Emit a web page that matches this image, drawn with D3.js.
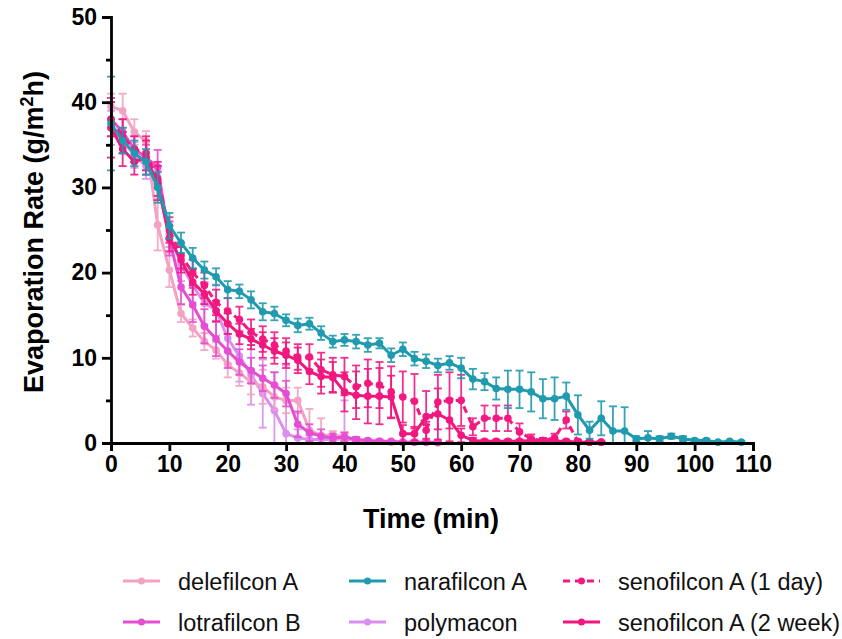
<!DOCTYPE html>
<html>
<head>
<meta charset="utf-8">
<script src="https://cdn.jsdelivr.net/npm/d3@7"></script>
<style>
  html, body { margin: 0; padding: 0; background: #fff; }
  svg { display: block; font-family: "Liberation Sans", Arial, sans-serif; }
</style>
</head>
<body>
<svg id="chart" width="842" height="639"></svg>
<script>
// Sampling times (min)
const times = [0,2,4,6,8,10,12,14,16,18,20,22,24,26,28,30,32,34,36,38,40,42,44,46,48,50,52,54,56,58,60,62,64,66,68,70,72,74,76,78,80,82,84,86,88,90,92,94,96,98,100,102,104,106,108];

// Evaporation rate means (g/m²h) and their error (SD)
const delefilcon = [39.5,39,36.5,35.4,25.6,20.3,15.2,13.5,11.9,10.9,9.2,8.2,7.2,6.6,5.4,5.0,5.0,1.5,0.9,0.9,0.8,0.4,0.2,0.2,0.1,0.1,0.1,0.1,0.0];
const delefilconErr = [1.5,2,1.5,1.2,3,2,1,1,1,1,1.5,1.5,1.5,2,1.5,1.5,1.5,2.5,2,0.5,0.5,0.3,0.2,0.2,0.1,0.1,0.1,0.1,0.1];

const lotrafilcon = [38,36.5,34.5,33.5,32.4,24,18.3,16.2,13.7,12.2,10.8,9.5,8.5,7.6,6.8,5.8,2.2,1.2,0.8,0.6,0.7,0.4,0.3,0.2,0.2,0.1,0.1,0.1,0.1];
const lotrafilconErr = [2,1.5,1.5,1.5,2,2,2,2,2,2,2,1.5,1.5,1.5,1.5,1.5,1.5,1,0.8,0.5,0.5,0.3,0.2,0.2,0.1,0.1,0.1,0.1,0.1];

const narafilcon = [37.5,35.5,34,33,30,25.5,23.5,21.7,20.3,19.5,18,17.8,16.8,15.4,15.2,14.4,13.8,14.0,12.9,11.9,12.1,11.9,11.5,11.7,10.3,11.0,9.9,9.6,9.1,9.4,8.8,7.5,7.2,6.4,6.3,6.3,6.0,5.2,5.2,5.5,3.3,1.5,2.9,1.4,1.4,0.5,0.6,0.5,0.8,0.5,0.3,0.3,0.1,0.2,0.1];
const narafilconErr = [5.5,1.5,1.5,1.5,1.8,1.5,1.2,1.2,1.0,1.0,1.0,0.8,1.0,1.0,0.8,0.7,0.8,0.7,0.8,0.7,0.7,0.8,0.8,0.6,0.8,0.8,0.8,0.8,0.8,0.8,1.2,1.2,1.0,1.3,2.2,2.2,2.3,2.3,2.5,1.6,2.3,1.0,2.0,2.9,2.8,0.3,0.8,0.3,0.3,0.3,0.2,0.2,0.1,0.1,0.1];

const polymacon = [37,35.5,33.8,32.5,30.5,24.5,21,18.5,16.4,15.6,12.3,10.2,8.0,5.8,3.8,1.1,0.6,0.4,0.4,0.4,0.5,0.3,0.2];
const polymaconErr = [2,1.5,1.5,1.5,1.5,1.5,2,2,2.5,3,3,3,3.5,4,4.5,8,1,0.5,0.5,0.5,4.5,0.3,0.2];

const senofilcon1d = [38,36,34.5,34,31,25,22,20,18.5,16.5,15.5,14.5,13.0,12.2,11.5,10.8,10.1,10.1,8.6,8.0,7.8,6.6,7.0,6.8,6.0,5.4,4.9,1.5,4.8,5.0,5.0,1.9,2.9,2.9,2.9,1.3,0.5,0.3,0.6,2.7,0.2,0.1,0.1];
const senofilcon1dErr = [2,2,1.5,2,2,1.5,1.5,1.5,1.5,1.5,1.5,1.5,1.5,1.5,1.5,1.5,1.5,1.5,2,2,2.2,2.5,2.8,2.7,3,3,3.2,1,3.2,3.3,3,1,1.5,1.5,1.5,1,0.5,0.3,0.5,1,0.2,0.1,0.1];

const senofilcon2w = [37,34.5,33,33.5,30.5,24,21.5,18.9,17.5,15.5,14.0,12.8,12.2,11.5,10.8,10.3,9.7,8.4,7.8,7.7,6.0,5.6,5.5,5.5,5.4,1.1,1.1,3.1,3.4,2.7,0.9,0.3,0.2,0.2,0.2,0.2,0.3,0.3,0.2,0.2,0.1,0.1,0.1];
const senofilcon2wErr = [3.5,2,1.5,2,2,1.5,1.5,1.5,1.2,1.2,1.2,1.2,1.2,1.5,1.5,1.5,1.5,1.5,2,1.8,2.3,2.8,3.2,3.3,2.5,1.0,0.8,3.0,3.0,2.5,0.8,0.3,0.2,0.2,0.2,0.2,0.2,0.2,0.2,0.2,0.1,0.1,0.1];

// Axis ticks
const xTicks = [0,10,20,30,40,50,60,70,80,90,100,110];
const yTicks = [0,10,20,30,40,50];
const yMinorTicks = [5,15,25,35,45];

const series = [
  { name: "polymacon", values: polymacon, err: polymaconErr, color: "#DA8EF0", dash: null },
  { name: "delefilcon A", values: delefilcon, err: delefilconErr, color: "#F3A2C4", dash: null },
  { name: "lotrafilcon B", values: lotrafilcon, err: lotrafilconErr, color: "#E54DD3", dash: null },
  { name: "senofilcon A (1 day)", values: senofilcon1d, err: senofilcon1dErr, color: "#F21A82", dash: "7,5" },
  { name: "senofilcon A (2 week)", values: senofilcon2w, err: senofilcon2wErr, color: "#F0177E", dash: null },
  { name: "narafilcon A", values: narafilcon, err: narafilconErr, color: "#1F9AAE", dash: null }
];

const legendItems = [
  { name: "delefilcon A", color: "#F3A2C4", dash: null, col: 0, row: 0 },
  { name: "lotrafilcon B", color: "#E54DD3", dash: null, col: 0, row: 1 },
  { name: "narafilcon A", color: "#1F9AAE", dash: null, col: 1, row: 0 },
  { name: "polymacon", color: "#DA8EF0", dash: null, col: 1, row: 1 },
  { name: "senofilcon A (1 day)", color: "#F21A82", dash: "7,5", col: 2, row: 0 },
  { name: "senofilcon A (2 week)", color: "#F0177E", dash: null, col: 2, row: 1 }
];

const svg = d3.select("#chart");
const plot = { left: 111, right: 753, top: 17, bottom: 443 };

const x = d3.scaleLinear().domain([0, 110]).range([plot.left, plot.right]);
const y = d3.scaleLinear().domain([0, 50]).range([plot.bottom, plot.top]);

// Data marks
const marks = svg.append("g");
series.forEach(s => {
  const pts = s.values.map((v, i) => ({ t: times[i], v, e: s.err[i] }));
  const g = marks.append("g");

  // error bars
  const eb = g.selectAll(".eb").data(pts).enter().append("g")
    .attr("stroke", s.color).attr("stroke-width", 1.8).attr("opacity", 0.9);
  eb.append("line")
    .attr("x1", d => x(d.t)).attr("x2", d => x(d.t))
    .attr("y1", d => y(d.v + d.e)).attr("y2", d => y(Math.max(0, d.v - d.e)));
  eb.append("line")
    .attr("x1", d => x(d.t) - 4).attr("x2", d => x(d.t) + 4)
    .attr("y1", d => y(d.v + d.e)).attr("y2", d => y(d.v + d.e));
  eb.filter(d => d.v - d.e > 0).append("line")
    .attr("x1", d => x(d.t) - 4).attr("x2", d => x(d.t) + 4)
    .attr("y1", d => y(d.v - d.e)).attr("y2", d => y(d.v - d.e));

  const line = d3.line().x(d => x(d.t)).y(d => y(d.v));
  g.append("path").datum(pts)
    .attr("d", line)
    .attr("fill", "none")
    .attr("stroke", s.color)
    .attr("stroke-width", 3)
    .attr("stroke-linejoin", "round")
    .attr("stroke-dasharray", s.dash);

  g.selectAll("circle").data(pts).enter().append("circle")
    .attr("cx", d => x(d.t)).attr("cy", d => y(d.v))
    .attr("r", 3.8).attr("fill", s.color);
});

// Axes
const xAxis = d3.axisBottom(x).tickValues(xTicks).tickSize(8).tickPadding(5).tickFormat(d3.format("d"));
const yAxis = d3.axisLeft(y).tickValues(yTicks).tickSize(9).tickPadding(5).tickFormat(d3.format("d"));

const gx = svg.append("g").attr("transform", `translate(0,${plot.bottom})`).call(xAxis);
const gy = svg.append("g").attr("transform", `translate(${plot.left},0)`).call(yAxis);
const gyMinor = svg.append("g").attr("transform", `translate(${plot.left},0)`)
  .call(d3.axisLeft(y).tickValues(yMinorTicks).tickSize(5).tickFormat(""));

[gx, gy, gyMinor].forEach(g => {
  g.select(".domain").attr("stroke", "#000").attr("stroke-width", 2.8);
  g.selectAll(".tick line").attr("stroke", "#000").attr("stroke-width", 2.8);
  g.selectAll(".tick text")
    .attr("fill", "#000")
    .style("font-family", "'Liberation Sans', Arial, sans-serif")
    .style("font-size", "23px")
    .style("font-weight", "bold");
});
gyMinor.select(".domain").remove();

// Axis titles
svg.append("text")
  .attr("x", 431).attr("y", 528)
  .attr("text-anchor", "middle")
  .style("font-size", "27px").style("font-weight", "bold")
  .text("Time (min)");

const yt = svg.append("text")
  .attr("transform", `translate(43,232) rotate(-90)`)
  .attr("text-anchor", "middle")
  .style("font-size", "27px").style("font-weight", "bold");
yt.append("tspan").text("Evaporation Rate (g/m");
yt.append("tspan").attr("baseline-shift", "super").style("font-size", "18px").text("2");
yt.append("tspan").text("h)");

// Legend
const colX = [123, 349, 563];
const rowY = [581, 622];
const lg = svg.append("g");
legendItems.forEach(it => {
  const gx0 = colX[it.col], gy0 = rowY[it.row];
  const li = lg.append("g");
  li.append("line")
    .attr("x1", gx0).attr("x2", gx0 + 37)
    .attr("y1", gy0).attr("y2", gy0)
    .attr("stroke", it.color).attr("stroke-width", 3)
    .attr("stroke-dasharray", it.dash);
  li.append("circle").attr("cx", gx0 + 18.5).attr("cy", gy0).attr("r", 3.5).attr("fill", it.color);
  li.append("text")
    .attr("x", gx0 + 55).attr("y", gy0 + 8.5)
    .style("font-size", "23.5px")
    .attr("fill", "#111")
    .text(it.name);
});
</script>
</body>
</html>
